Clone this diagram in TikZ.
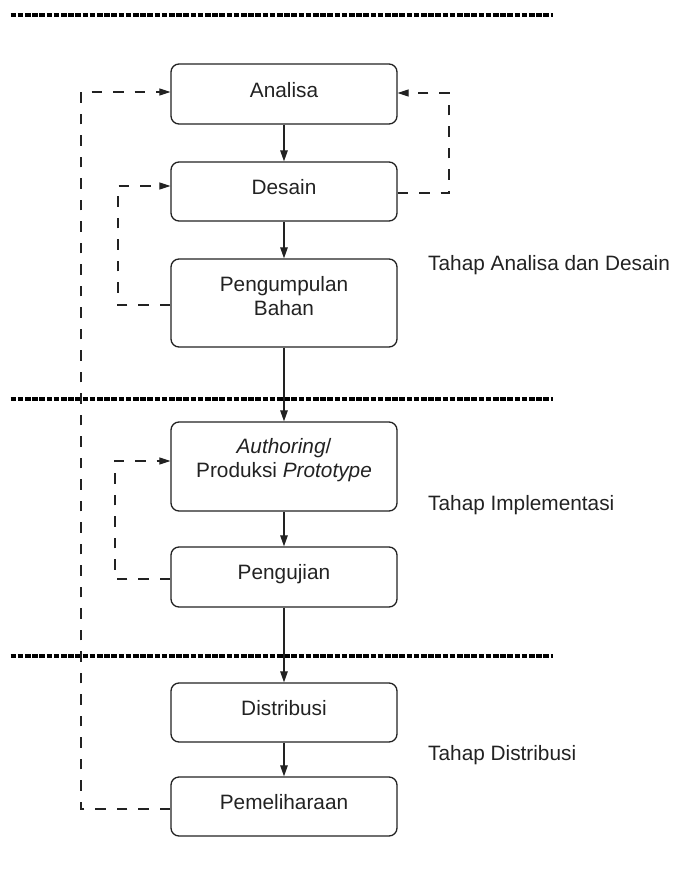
\documentclass[tikz,border=0pt]{standalone}
\usepackage{fontspec}
\setmainfont{Liberation Sans}
\usetikzlibrary{arrows.meta}
\definecolor{ink}{HTML}{222222}
\begin{document}
\begin{tikzpicture}[x=1pt,y=-1pt,
  font=\fontsize{20.8}{24}\selectfont,
  box/.style={draw=ink,line width=1.3pt,rounded corners=8pt,minimum width=226pt,inner sep=0pt},
  lbl/.style={text=ink,inner sep=0pt,align=center},
  tahap/.style={text=ink,inner sep=0pt,anchor=base west},
  flow/.style={draw=ink,line width=1.2pt,-{Triangle[length=11pt,width=7.5pt]}},
  loop/.style={draw=ink,line width=1.1pt,dash pattern=on 10.5pt off 11pt,-{Triangle[length=11pt,width=7pt]}},
  sep/.style={draw=black,line width=3.2pt,dash pattern=on 5.6pt off 1.6pt}]
\useasboundingbox (0,0) rectangle (677,886);

% separators
\coordinate (s1a) at (10.5,15); \coordinate (s1b) at (553,15);
\coordinate (s2a) at (10.5,399); \coordinate (s2b) at (553,399);
\coordinate (s3a) at (10.5,656); \coordinate (s3b) at (553,656);
\draw[sep] (s1a) -- (s1b);
\draw[sep] (s2a) -- (s2b);
\draw[sep] (s3a) -- (s3b);

% boxes
\node[box,minimum height=60pt] (analisa) at (284,94) {};
\node[box,minimum height=59pt] (desain) at (284,191.5) {};
\node[box,minimum height=88pt] (bahan) at (284,303) {};
\node[box,minimum height=89pt] (author) at (284,466.5) {};
\node[box,minimum height=60pt] (uji) at (284,577) {};
\node[box,minimum height=59pt] (distri) at (284,712.5) {};
\node[box,minimum height=59pt] (pelihara) at (284,806.5) {};

% labels
\node[lbl,anchor=base] (tAnalisa) at (284,97.5) {Analisa};
\node[lbl,anchor=base] (tDesain) at (284,194.5) {Desain};
\node[lbl] (tBahan) at (284,296) {Pengumpulan\\Bahan};
\node[lbl] (tAuthor) at (284,460.5) {\itshape Authoring\upshape /\\Produksi \itshape Prototype};
\node[lbl,anchor=base] (tUji) at (284,579.5) {Pengujian};
\node[lbl,anchor=base] (tDistri) at (284,715.5) {Distribusi};
\node[lbl,anchor=base] (tPelihara) at (284,809.5) {Pemeliharaan};

\node[tahap] (tahap1) at (428,270.5) {Tahap Analisa dan Desain};
\node[tahap] (tahap2) at (428,510.5) {Tahap Implementasi};
\node[tahap] (tahap3) at (428,760.5) {Tahap Distribusi};

% main flow
\draw[flow] (analisa.south) -- (desain.north);
\draw[flow] (desain.south) -- (bahan.north);
\draw[flow] (bahan.south) -- (author.north);
\draw[flow] (author.south) -- (uji.north);
\draw[flow] (uji.south) -- (distri.north);
\draw[flow] (distri.south) -- (pelihara.north);

% feedback loops
\draw[loop] (desain.east |- 0,193) -- (449,193) -- (449,93) -- (analisa.east |- 0,93);
\draw[loop] (bahan.west |- 0,305) -- (118,305) -- (118,186) -- (desain.west |- 0,186);
\draw[loop] (uji.west |- 0,579) -- (115,579) -- (115,461) -- (author.west |- 0,461);
\draw[loop] (pelihara.west |- 0,809) -- (81,809) -- (81,92) -- (analisa.west |- 0,92);
\end{tikzpicture}
\end{document}
